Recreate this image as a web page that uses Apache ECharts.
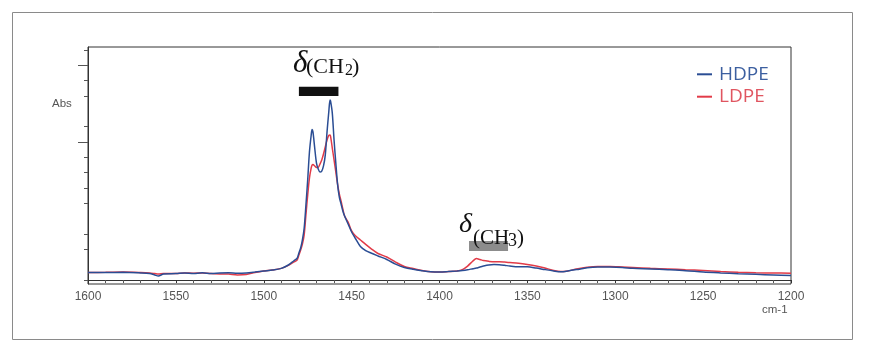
<!DOCTYPE html>
<html>
<head>
<meta charset="utf-8">
<script src="https://cdn.jsdelivr.net/npm/echarts@6/dist/echarts.min.js"></script>
<style>html,body{margin:0;padding:0;background:#fff;}#c{width:870px;height:354px;}</style>
</head>
<body>
<div id="c"></div>
<script>
// wavenumbers (cm-1)
const wavenumbers = [1600,1590,1580,1570,1565,1562,1560,1557,1550,1545,1540,1535,1530,1525,1520,1515,1510,1505,1500,1495,1490,1486,1483,1481,1480,1479,1478,1477,1476,1475,1474,1473,1472.5,1472,1471,1470,1469,1468,1467,1466,1465,1464,1463,1462.3,1462,1461,1460,1459,1458,1457,1456,1455,1454,1452,1450,1448,1445,1442,1439,1435,1430,1425,1420,1415,1410,1405,1400,1395,1390,1387,1384,1381,1379,1377,1375,1372,1369,1366,1363,1360,1355,1350,1345,1340,1335,1331,1327,1322,1316,1310,1303,1296,1290,1280,1270,1260,1250,1240,1230,1220,1210,1200];
const hdpe = [0.49,0.49,0.50,0.46,0.42,0.33,0.26,0.39,0.42,0.46,0.42,0.47,0.42,0.46,0.47,0.44,0.46,0.52,0.59,0.65,0.76,0.98,1.24,1.42,1.76,2.09,2.61,3.39,4.89,6.52,8.35,9.46,9.82,9.66,8.61,7.63,7.24,7.05,7.11,7.44,8.15,9.65,10.96,11.74,11.68,10.89,9.13,7.63,6.26,5.41,4.96,4.50,4.17,3.65,3.13,2.74,2.19,1.92,1.76,1.57,1.34,1.04,0.82,0.70,0.61,0.54,0.52,0.55,0.59,0.62,0.67,0.74,0.78,0.85,0.91,0.98,1.01,1.00,0.96,0.91,0.86,0.86,0.78,0.68,0.59,0.54,0.59,0.68,0.80,0.85,0.85,0.82,0.76,0.72,0.67,0.61,0.52,0.46,0.41,0.37,0.33,0.29];
const ldpe = [0.49,0.50,0.52,0.49,0.46,0.42,0.39,0.42,0.42,0.46,0.44,0.46,0.42,0.40,0.39,0.33,0.36,0.49,0.59,0.65,0.76,0.95,1.17,1.30,1.63,1.96,2.35,2.94,4.24,5.54,6.65,7.31,7.50,7.53,7.44,7.34,7.35,7.57,7.83,8.22,8.68,9.13,9.43,9.46,9.39,8.61,7.83,7.05,6.26,5.61,5.15,4.63,4.17,3.78,3.20,2.90,2.61,2.32,2.05,1.73,1.50,1.17,0.88,0.75,0.62,0.54,0.52,0.55,0.59,0.68,0.91,1.24,1.40,1.34,1.27,1.22,1.19,1.19,1.17,1.14,1.09,1.01,0.91,0.78,0.62,0.55,0.59,0.72,0.83,0.88,0.88,0.85,0.82,0.76,0.72,0.67,0.62,0.55,0.50,0.47,0.46,0.44];
const seriesNames = ['HDPE','LDPE'];
const xTickLabels = [1200,1250,1300,1350,1400,1450,1500,1550,1600];
const yMinorTicks = [0,2,3,5,6,7,8,10,12,13,15];
const yMajorTicks = [9,14];
// annotated bands: [wn start, wn end, level low, level high]
const bandCH2 = [1480, 1457.5, 12.0, 12.6];
const bandCH3 = [1383.2, 1361, 1.89, 2.54];

const BLUE = '#2a4d94', RED = '#e23b48';
const chart = echarts.init(document.getElementById('c'), null, {renderer:'canvas'});
const yMin = -0.26, yMax = 15.2;
const mk = arr => wavenumbers.map((w,i)=>[w,arr[i]]);
const serif = 'Liberation Serif';
chart.setOption({
  animation:false,
  backgroundColor:'#fff',
  grid:{left:88, top:47, right:79, bottom:70, show:true, borderColor:'#333', borderWidth:1},
  legend:{
    orient:'vertical', left:697, top:64.3, padding:0, itemWidth:15, itemHeight:2, itemGap:2.4, icon:'rect',
    data:[{name:seriesNames[0], textStyle:{color:'#3c5fa0'}},{name:seriesNames[1], textStyle:{color:'#e05560'}}],
    textStyle:{fontFamily:'Open Sans', fontSize:19, lineHeight:20, padding:[0,0,0,2]}
  },
  xAxis:{
    type:'value', min:1200, max:1600, interval:50, inverse:true,
    axisLine:{lineStyle:{color:'#333', width:1}},
    axisTick:{length:3, lineStyle:{color:'#333'}},
    minorTick:{show:true, splitNumber:5, length:3, lineStyle:{color:'#555'}},
    splitLine:{show:false},
    axisLabel:{color:'#555', fontFamily:'Liberation Sans', fontSize:12, margin:7,
      formatter: v => xTickLabels.includes(v) ? String(v) : ''}
  },
  yAxis:[{
    type:'value', min:yMin, max:yMax,
    axisLine:{show:true, lineStyle:{color:'#333', width:1}},
    axisTick:{show:true, length:4, customValues:yMinorTicks, lineStyle:{color:'#555'}},
    axisLabel:{show:false}, splitLine:{show:false}
  },{
    type:'value', min:yMin, max:yMax, position:'left',
    axisLine:{show:false},
    axisTick:{show:true, length:10, customValues:yMajorTicks, lineStyle:{color:'#555'}},
    axisLabel:{show:false}, splitLine:{show:false}
  }],
  series:[
    {name:seriesNames[1], type:'line', data:mk(ldpe), showSymbol:false, symbol:'none', smooth:0.3,
     lineStyle:{color:RED, width:1.5}, itemStyle:{color:RED},
     markArea:{silent:true, itemStyle:{color:'#8c8c8c'}, data:[[{coord:[bandCH3[0],bandCH3[2]]},{coord:[bandCH3[1],bandCH3[3]]}]]}},
    {name:seriesNames[0], type:'line', data:mk(hdpe), showSymbol:false, symbol:'none', smooth:0.3,
     lineStyle:{color:BLUE, width:1.5}, itemStyle:{color:BLUE},
     markArea:{silent:true, itemStyle:{color:'#111'}, data:[[{coord:[bandCH2[0],bandCH2[2]]},{coord:[bandCH2[1],bandCH2[3]]}]]}}
  ],
  graphic:[
    {type:'rect', z:100, shape:{x:12.5,y:12.5,width:840,height:327}, style:{fill:null, stroke:'#8a8a8a', lineWidth:1}, silent:true},
    {type:'text', z:100, left:52, top:98, style:{text:'Abs', fontFamily:'Liberation Sans', fontSize:11.5, fill:'#555'}},
    {type:'text', z:100, left:762, top:304, style:{text:'cm-1', fontFamily:'Liberation Sans', fontSize:11.5, fill:'#555'}},
    {type:'text', z:100, left:293, top:48, style:{text:'δ', fontFamily:serif, fontStyle:'italic', fontSize:31, fill:'#111'}},
    {type:'text', z:100, left:306, top:56, style:{text:'(CH', fontFamily:serif, fontSize:22, fill:'#111'}},
    {type:'text', z:100, left:345, top:63, style:{text:'2', fontFamily:serif, fontSize:16, fill:'#111'}},
    {type:'text', z:100, left:352, top:56, style:{text:')', fontFamily:serif, fontSize:22, fill:'#111'}},
    {type:'text', z:100, left:459, top:211, style:{text:'δ', fontFamily:serif, fontStyle:'italic', fontSize:28, fill:'#111'}},
    {type:'text', z:100, left:473, top:228, style:{text:'(CH', fontFamily:serif, fontSize:21, fill:'#111'}},
    {type:'text', z:100, left:508, top:232, style:{text:'3', fontFamily:serif, fontSize:18, fill:'#111'}},
    {type:'text', z:100, left:517, top:228, style:{text:')', fontFamily:serif, fontSize:21, fill:'#111'}}
  ]
});
</script>
</body>
</html>
